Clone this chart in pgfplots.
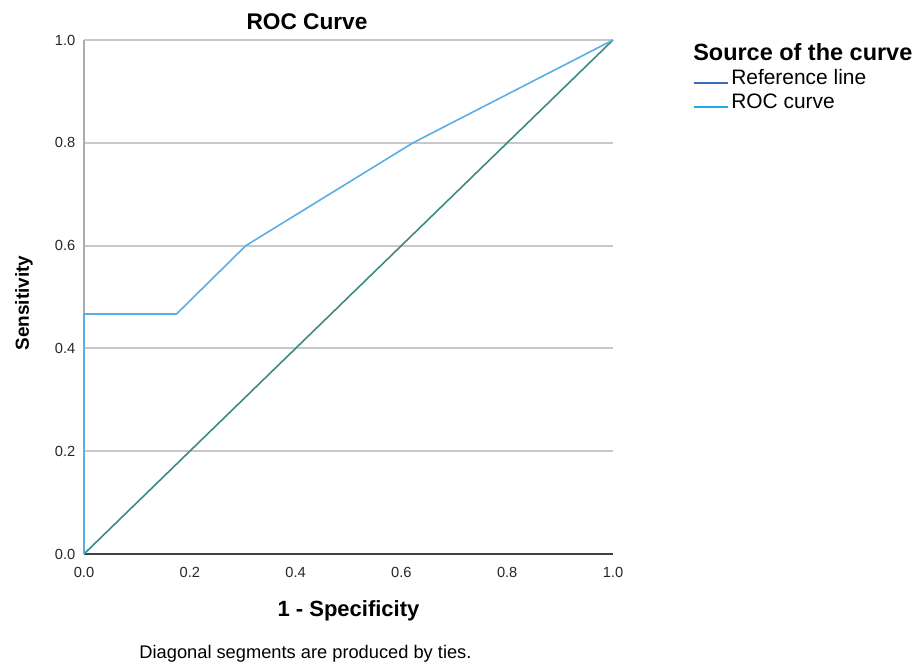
\documentclass[border=0pt]{standalone}
\usepackage{fontspec}
\setmainfont{Liberation Sans}
\usepackage{pgfplots}
\pgfplotsset{compat=1.18}
\definecolor{roc}{HTML}{5AAEE8}
\definecolor{rocleg}{HTML}{1EA8E8}
\definecolor{ref}{HTML}{3D8A85}
\definecolor{refleg}{HTML}{3B6CC0}
\definecolor{gridc}{HTML}{C8C8C8}
\begin{document}
\begin{tikzpicture}
\begin{axis}[
  at={(0,0)}, anchor=origin,
  scale only axis, width=396.75pt, height=385.5pt,
  xmin=0, xmax=1, ymin=0, ymax=1,
  axis x line=bottom, axis y line=left,
  x axis line style={-, draw=black!75, line width=0.9pt},
  y axis line style={-, draw=gray!65, line width=1.5pt},
  xtick={0,0.2,0.4,0.6,0.8,1.0}, ytick={0,0.2,0.4,0.6,0.8,1.0},
  major tick length=0pt,
  /pgf/number format/fixed, /pgf/number format/fixed zerofill, /pgf/number format/precision=1,
  /pgf/number format/assume math mode=true,
  tick label style={font=\fontsize{11}{13}\selectfont, black!85},
  xticklabel style={yshift=-6.3pt},
  yticklabel style={xshift=-3pt},
  ymajorgrids, grid style={gridc, line width=1.4pt},
  every axis title shift=0pt,
  title={\textbf{ROC Curve}},
  title style={at={(axis description cs:0.4216,1.035)}, anchor=center, font=\fontsize{17}{20}\selectfont},
  xlabel={\textbf{1 - Specificity}},
  xlabel style={at={(axis description cs:0.5,-0.111)}, anchor=center, font=\fontsize{16.5}{19}\selectfont},
  ylabel={\textbf{Sensitivity}},
  ylabel style={at={(axis description cs:-0.1134,0.4883)}, anchor=center, font=\fontsize{14.2}{17}\selectfont},
  legend style={at={(axis description cs:1.1512,0.949)}, anchor=north west, draw=none, fill=none, inner sep=0pt,
    font=\fontsize{15.7}{18}\selectfont, row sep=1.5pt,
    /tikz/every even column/.append style={column sep=2pt}},
  legend cell align=left,
  legend image code/.code={\draw[#1] (0pt,-4pt) -- (25pt,-4pt);},
  clip=false,
]
\addplot[ref, line width=1.2pt, forget plot] coordinates {(0,0) (1,1)};
\addplot[roc, line width=1.2pt, forget plot] coordinates {
(0,0) (0,0.467) (0.175,0.467) (0.306,0.600) (0.622,0.800) (1,1)};
\addlegendimage{draw=refleg, line width=1.5pt}
\addlegendentry{Reference line}
\addlegendimage{draw=rocleg, line width=1.5pt}
\addlegendentry{ROC curve}
\node[anchor=west, font=\fontsize{17.6}{20}\selectfont\bfseries, inner sep=0pt] at (axis description cs:1.1512,0.9767) {Source of the curve};
\node[anchor=center, font=\fontsize{13.7}{16}\selectfont, inner sep=0pt] at (axis description cs:0.4187,-0.1946) {Diagonal segments are produced by ties.};
\end{axis}
\pgfresetboundingbox
\path[use as bounding box] (-63pt,-83.25pt) rectangle (627pt,415.5pt);
\end{tikzpicture}
\end{document}
